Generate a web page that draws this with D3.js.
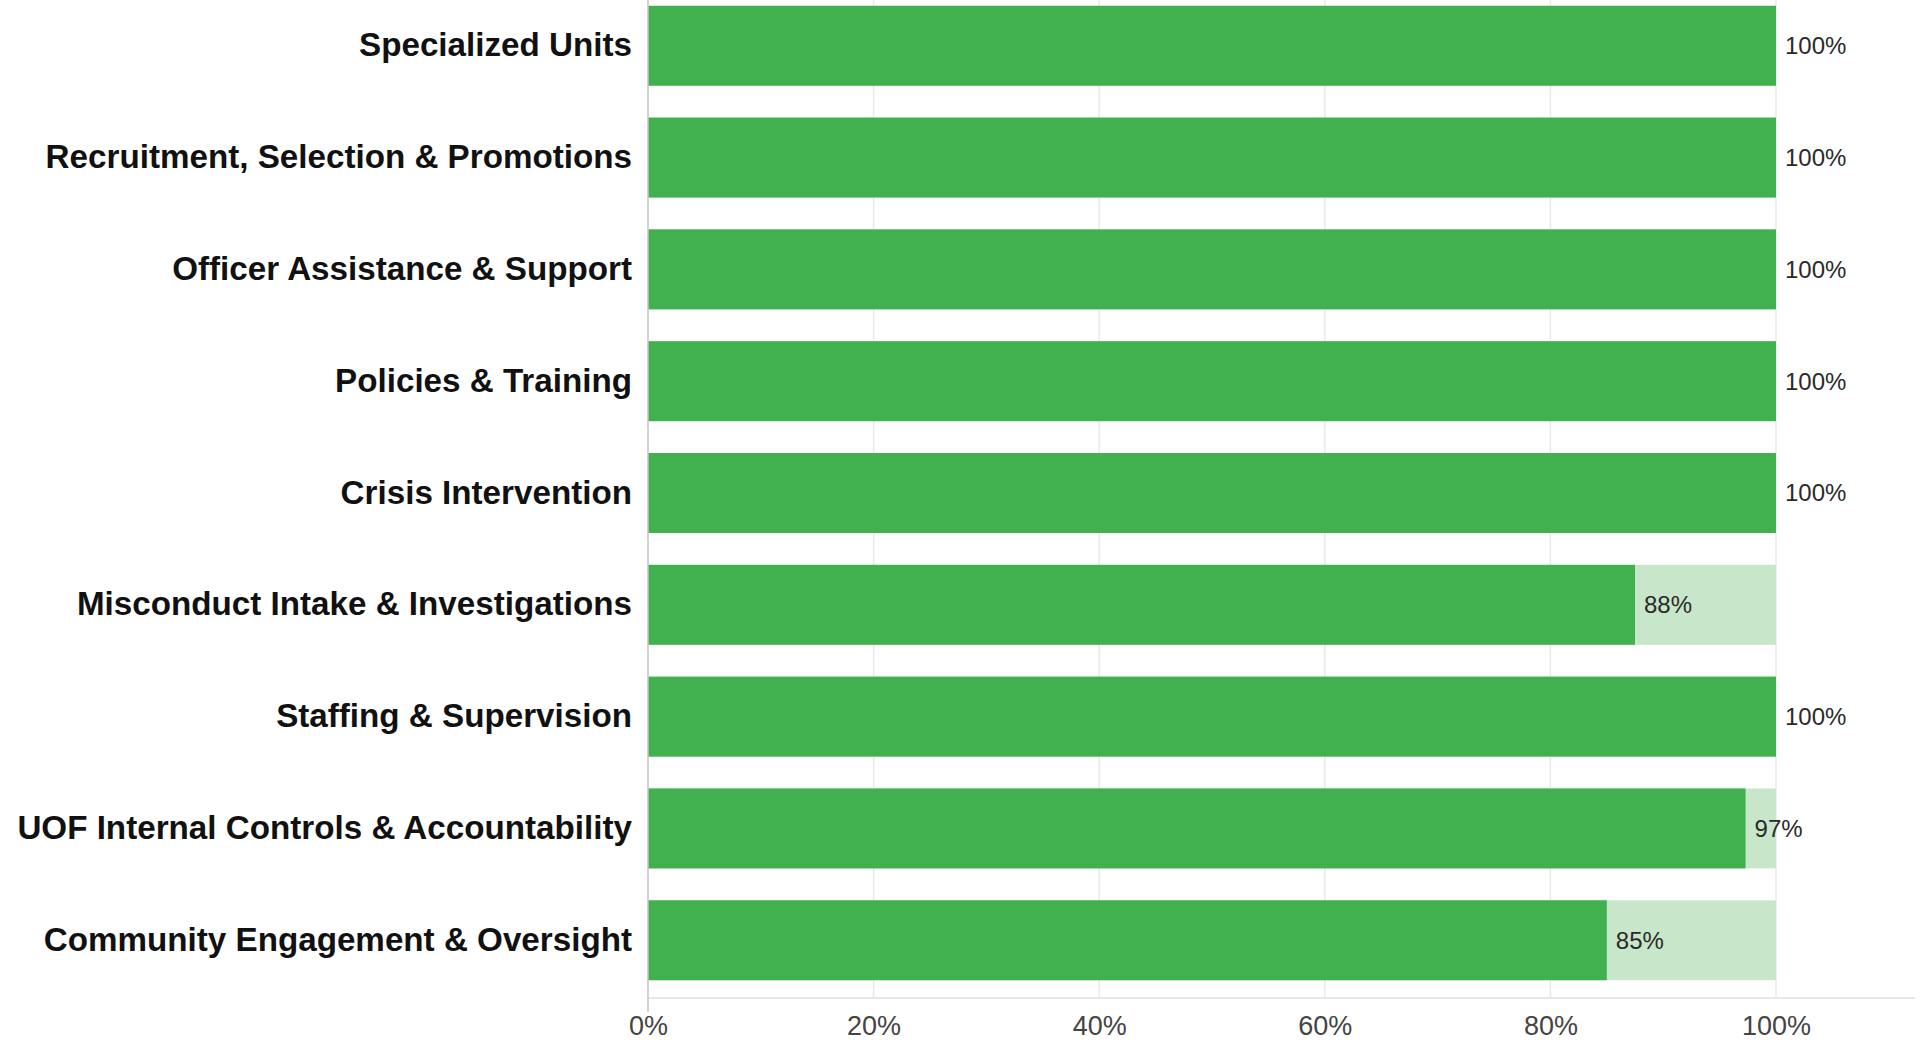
<!DOCTYPE html>
<html>
<head>
<meta charset="utf-8">
<script src="https://cdn.jsdelivr.net/npm/d3@7"></script>
<style>
  html, body { margin: 0; padding: 0; background: #fff; }
  svg { display: block; font-family: "Liberation Sans", Arial, sans-serif; }
</style>
</head>
<body>
<script>
// categories, top to bottom
var categories = [
  "Specialized Units",
  "Recruitment, Selection & Promotions",
  "Officer Assistance & Support",
  "Policies & Training",
  "Crisis Intervention",
  "Misconduct Intake & Investigations",
  "Staffing & Supervision",
  "UOF Internal Controls & Accountability",
  "Community Engagement & Oversight"
];
// percent complete
var values = [100, 100, 100, 100, 100, 87.5, 100, 97.3, 85];
var ticks = [0, 20, 40, 60, 80, 100];

var width = 1923, height = 1043;
var left = 648, right = 1776, bottom = 998;

var svg = d3.select("body").append("svg")
  .attr("width", width)
  .attr("height", height);

var x = d3.scaleLinear().domain([0, 100]).range([left, right]);
var y = d3.scaleBand()
  .domain(categories)
  .range([-11, 997])
  .paddingInner(0.285)
  .paddingOuter(0.15);

// grid lines
svg.append("g").selectAll("line").data(ticks.slice(1)).enter()
  .append("line")
  .attr("x1", function(d) { return x(d); })
  .attr("x2", function(d) { return x(d); })
  .attr("y1", 0)
  .attr("y2", bottom)
  .attr("stroke", "#e8e8e8")
  .attr("stroke-width", 1.5);

// baseline
svg.append("line")
  .attr("x1", left).attr("x2", 1915)
  .attr("y1", bottom).attr("y2", bottom)
  .attr("stroke", "#e8e8e8")
  .attr("stroke-width", 2);

// background (remaining) bars
svg.append("g").selectAll("rect").data(categories).enter()
  .append("rect")
  .attr("x", x(0))
  .attr("y", function(d) { return y(d); })
  .attr("width", x(100) - x(0))
  .attr("height", y.bandwidth())
  .attr("fill", "#c8e6c9");

// value bars
svg.append("g").selectAll("rect").data(values).enter()
  .append("rect")
  .attr("x", x(0))
  .attr("y", function(d, i) { return y(categories[i]); })
  .attr("width", function(d) { return x(d) - x(0); })
  .attr("height", y.bandwidth())
  .attr("fill", "#41b04e");

// value labels
svg.append("g").selectAll("text").data(values).enter()
  .append("text")
  .attr("x", function(d) { return x(d) + 9; })
  .attr("y", function(d, i) { return y(categories[i]) + y.bandwidth() / 2; })
  .attr("dy", "0.35em")
  .attr("font-size", 24)
  .attr("fill", "#2a2a2a")
  .text(function(d) { return Math.round(d) + "%"; });

// left axis
var yAxis = d3.axisLeft(y).tickSize(0).tickPadding(16);
var gy = svg.append("g")
  .attr("transform", "translate(" + left + ",0)")
  .call(yAxis);
gy.select(".domain").remove();
gy.append("line")
  .attr("x1", 0).attr("x2", 0)
  .attr("y1", 0).attr("y2", 1012)
  .attr("stroke", "#c4c4c4")
  .attr("stroke-width", 1.5);
gy.selectAll(".tick text")
  .attr("font-size", 33.2)
  .attr("font-weight", "bold")
  .attr("font-family", "Liberation Sans, Arial, sans-serif")
  .attr("fill", "#111");

// bottom axis
var xAxis = d3.axisBottom(x).tickValues(ticks).tickSize(0).tickPadding(18)
  .tickFormat(function(d) { return d + "%"; });
var gx = svg.append("g")
  .attr("transform", "translate(0," + bottom + ")")
  .call(xAxis);
gx.select(".domain").remove();
gx.selectAll(".tick text")
  .attr("font-size", 27)
  .attr("font-family", "Liberation Sans, Arial, sans-serif")
  .attr("fill", "#444");
</script>
</body>
</html>
